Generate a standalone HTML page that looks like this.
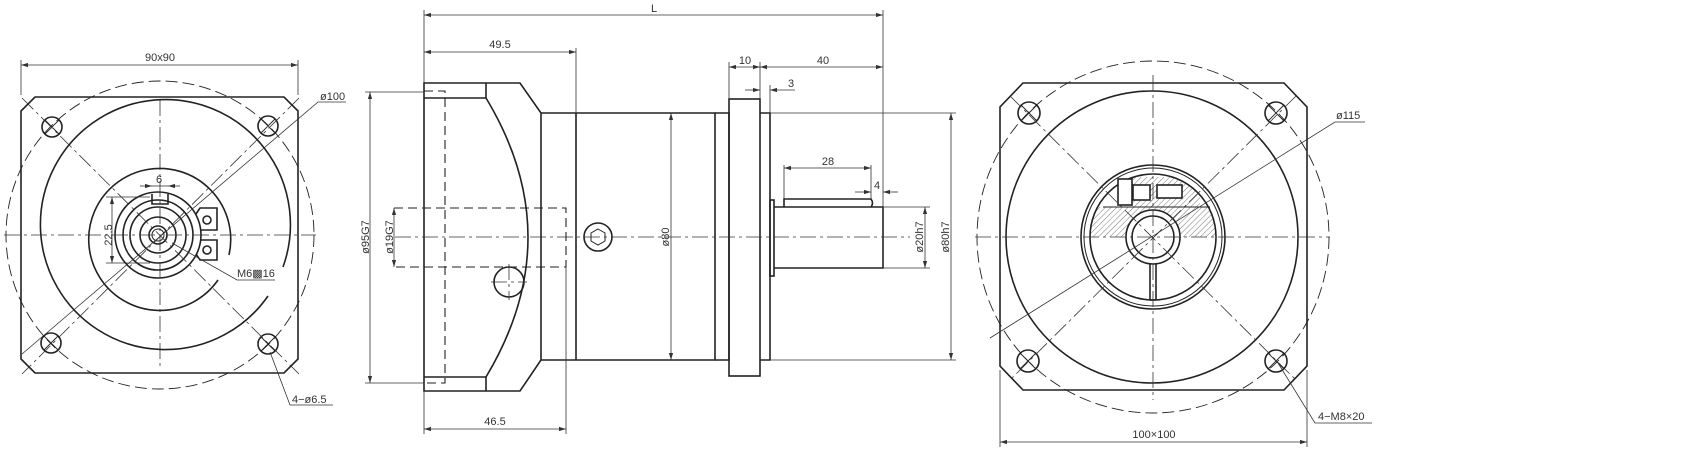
<!DOCTYPE html>
<html><head><meta charset="utf-8"><style>
html,body{margin:0;padding:0;background:#fff;}
svg{display:block;}
text{font-family:"Liberation Sans",sans-serif;font-size:11px;fill:#333;}
</style></head><body>
<svg width="1706" height="455" viewBox="0 0 1706 455" xmlns="http://www.w3.org/2000/svg">
<defs>
<marker id="a" viewBox="0 0 10 10" refX="10" refY="5" markerWidth="7" markerHeight="7" orient="auto-start-reverse" markerUnits="userSpaceOnUse"><path d="M0,2 L10,5 L0,8 z" fill="#333"/></marker>
<pattern id="h" width="4" height="4" patternUnits="userSpaceOnUse" patternTransform="rotate(45)"><line x1="0" y1="0" x2="0" y2="4" stroke="#555" stroke-width="0.8"/></pattern>
<clipPath id="ringc"><circle cx="1153" cy="237" r="63"/></clipPath>
</defs>
<g fill="none" stroke="#222" stroke-width="1.6">
<!-- LEFT VIEW -->
<path d="M35,97 L284,97 L298,111 L298,359 L284,373 L35,373 L21,359 L21,111 Z"/>
<circle cx="160" cy="235" r="154" stroke-width="0.9" stroke-dasharray="12 5"/>
<path d="M268,296 A125,125 0 1 1 283,267"/>
<path d="M218,280 A71,71 0 1 1 229,255"/>
<circle cx="52" cy="127" r="10"/><circle cx="268" cy="126" r="10"/>
<circle cx="51" cy="343" r="10"/><circle cx="268" cy="344" r="10"/>
<g stroke-width="0.9"><path d="M45,120 L59,134 M59,120 L45,134 M261,119 L275,133 M275,119 L261,133 M44,336 L58,350 M58,336 L44,350 M261,337 L275,351 M275,337 L261,351"/></g>
<circle cx="158" cy="235" r="43"/>
<circle cx="158" cy="235" r="35"/>
<circle cx="158" cy="235" r="28"/>
<circle cx="158" cy="235" r="18"/>
<circle cx="158" cy="235" r="9"/>
<circle cx="158" cy="235" r="6" stroke-width="1"/>
<path d="M152,194 L152,204 L168,204 L168,194"/>
<path d="M196,214 L200,208 L217,208 L217,230 L200,230 M200,240 L217,240 L217,260 L200,260 L196,254"/>
<circle cx="207" cy="220" r="4"/><circle cx="207" cy="250" r="4"/>
<!-- SIDE VIEW -->
<path d="M424,83 L520,83 L541,113 L541,360 L520,391 L424,391 Z"/>
<path d="M424,98 L486,98 M424,377 L486,377 M486,83 L486,98 M486,377 L486,391"/>
<path d="M486,98 Q570,237 486,377"/>
<path d="M541,113 L715,113 L715,360 L541,360 M576,113 L576,360"/>
<path d="M715,113 L729,113 L729,360 L715,360"/>
<rect x="729" y="99" width="31" height="277"/>
<path d="M760,113 L770,113 L770,360 L760,360"/>
<rect x="770" y="200" width="4" height="76"/>
<path d="M774,207 L883,207 L883,268 L774,268"/>
<path d="M784,207 L784,199 L871,199 Q874,203 871,207"/>
<circle cx="598" cy="237" r="14"/>
<path d="M598,229 L605,233 L605,241 L598,245 L591,241 L591,233 Z" stroke-width="1"/>
<circle cx="509" cy="282" r="15"/>
<g stroke-width="1.1" stroke-dasharray="9 5">
<path d="M424,91 L445,91 L445,383 L424,383"/>
<path d="M394,208 L566,208 L566,267 L394,267"/>
</g>
<!-- RIGHT VIEW -->
<path d="M1023,83 L1284,83 L1307,107 L1307,366 L1284,390 L1023,390 L1000,366 L1000,107 Z"/>
<circle cx="1153" cy="237" r="176" stroke-width="0.9" stroke-dasharray="12 5"/>
<circle cx="1152" cy="237" r="146"/>
<circle cx="1029" cy="113" r="11"/><circle cx="1028" cy="361" r="11"/>
<circle cx="1276" cy="113" r="11"/><circle cx="1276" cy="361" r="11"/>
<g stroke-width="0.9"><path d="M1021,105 L1037,121 M1037,105 L1021,121 M1020,353 L1036,369 M1036,353 L1020,369 M1268,105 L1284,121 M1284,105 L1268,121 M1268,353 L1284,369 M1284,353 L1268,369"/></g>
<g clip-path="url(#ringc)" stroke="none">
<rect x="1090" y="207" width="126" height="30" fill="url(#h)"/>
<rect x="1150" y="177" width="50" height="30" fill="url(#h)"/>
<rect x="1133" y="177" width="20" height="30" fill="url(#h)"/>
</g>
<circle cx="1153" cy="237" r="27" fill="#fff"/>
<circle cx="1153" cy="237" r="21"/>
<circle cx="1153" cy="237" r="72"/>
<circle cx="1153" cy="237" r="69" stroke-width="1"/>
<circle cx="1153" cy="237" r="63"/>
<path d="M1103,207 L1210,207" stroke-width="1"/>
<rect x="1118" y="179" width="14" height="26" fill="#fff"/>
<rect x="1133" y="185" width="17" height="15" fill="#fff"/>
<rect x="1157" y="185" width="25" height="13" fill="#fff"/>
<path d="M1150,264 L1150,300 M1156,264 L1156,300 M1150,300 L1156,300"/>
</g>
<!-- center lines -->
<g fill="none" stroke="#333" stroke-width="0.8" stroke-dasharray="16 4 3 4">
<path d="M4,235 L316,235 M160,100 L160,370"/>
<path d="M22,98 L299,374 M299,98 L22,374"/>
<path d="M395,237 L910,237"/>
<path d="M509,264 L509,300 M491,282 L527,282"/>
<path d="M975,237 L1330,237 M1153,75 L1153,400"/>
<path d="M1010,96 L1296,380 M1296,96 L1010,380"/>
</g>
<!-- dimensions -->
<g fill="none" stroke="#333" stroke-width="0.8">
<path d="M21,60 L21,95 M298,60 L298,95"/>
<path d="M21,65 L298,65" marker-start="url(#a)" marker-end="url(#a)"/>
<path d="M346,102 L318,102 L22,354"/>
<path d="M333,405 L290,405 L270,352"/>
<path d="M275,280 L237,280 L172,243"/>
<path d="M112,197 L112,263" marker-start="url(#a)" marker-end="url(#a)"/>
<path d="M106,197 L150,197 M106,263 L150,263"/>
<path d="M140,186 L152,186" marker-end="url(#a)"/><path d="M180,186 L168,186" marker-end="url(#a)"/>
<path d="M152,186 L168,186"/>
<path d="M424,10 L424,83 M883,10 L883,207"/>
<path d="M424,15 L883,15" marker-start="url(#a)" marker-end="url(#a)"/>
<path d="M576,48 L576,113"/>
<path d="M424,52 L576,52" marker-start="url(#a)" marker-end="url(#a)"/>
<path d="M424,391 L424,434 M566,267 L566,434"/>
<path d="M424,429 L566,429" marker-start="url(#a)" marker-end="url(#a)"/>
<path d="M365,92 L424,92 M365,383 L424,383"/>
<path d="M370,92 L370,383" marker-start="url(#a)" marker-end="url(#a)"/>
<path d="M394,208 L394,267" marker-start="url(#a)" marker-end="url(#a)"/>
<path d="M671,113 L671,360" marker-start="url(#a)" marker-end="url(#a)"/>
<path d="M729,62 L729,99 M760,62 L760,99 M770,85 L770,113"/>
<path d="M729,67 L760,67" marker-start="url(#a)" marker-end="url(#a)"/>
<path d="M760,67 L883,67" marker-start="url(#a)" marker-end="url(#a)"/>
<path d="M745,90 L760,90" marker-end="url(#a)"/><path d="M795,90 L770,90" marker-end="url(#a)"/>
<path d="M784,165 L784,199 M871,165 L871,199"/>
<path d="M784,168 L871,168" marker-start="url(#a)" marker-end="url(#a)"/>
<path d="M855,192 L871,192" marker-end="url(#a)"/><path d="M898,192 L883,192" marker-end="url(#a)"/>
<path d="M883,207 L930,207 M883,268 L930,268 M770,113 L956,113 M770,360 L956,360"/>
<path d="M925,207 L925,268" marker-start="url(#a)" marker-end="url(#a)"/>
<path d="M951,113 L951,360" marker-start="url(#a)" marker-end="url(#a)"/>
<path d="M1000,370 L1000,447 M1307,370 L1307,447"/>
<path d="M1000,442 L1307,442" marker-start="url(#a)" marker-end="url(#a)"/>
<path d="M1365,122 L1335,122 L990,338"/>
<path d="M1372,423 L1315,423 L1278,363"/>
</g>
<!-- text -->
<text x="160" y="61" text-anchor="middle">90x90</text>
<text x="320" y="100">ø100</text>
<text x="292" y="403">4−ø6.5</text>
<text x="237" y="277">M6▩16</text>
<text x="159" y="183" text-anchor="middle">6</text>
<text x="108" y="235" text-anchor="middle" transform="rotate(-90 108 235)" dy="4">22.5</text>
<text x="654" y="12" text-anchor="middle">L</text>
<text x="500" y="48" text-anchor="middle">49.5</text>
<text x="495" y="425" text-anchor="middle">46.5</text>
<text x="365" y="237" text-anchor="middle" transform="rotate(-90 365 237)" dy="4">ø95G7</text>
<text x="389" y="237" text-anchor="middle" transform="rotate(-90 389 237)" dy="4">ø19G7</text>
<text x="665" y="237" text-anchor="middle" transform="rotate(-90 665 237)" dy="4">ø80</text>
<text x="919" y="237" text-anchor="middle" transform="rotate(-90 919 237)" dy="4">ø20h7</text>
<text x="945" y="237" text-anchor="middle" transform="rotate(-90 945 237)" dy="4">ø80h7</text>
<text x="745" y="64" text-anchor="middle">10</text>
<text x="823" y="64" text-anchor="middle">40</text>
<text x="791" y="87" text-anchor="middle">3</text>
<text x="828" y="165" text-anchor="middle">28</text>
<text x="877" y="189" text-anchor="middle">4</text>
<text x="1154" y="438" text-anchor="middle">100×100</text>
<text x="1336" y="119">ø115</text>
<text x="1318" y="420">4−M8×20</text>
</svg>
</body></html>
